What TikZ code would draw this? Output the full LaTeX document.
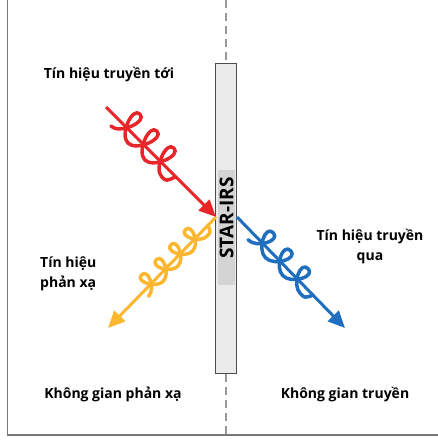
\documentclass[tikz,border=0pt]{standalone}
\usepackage{fontspec}
\setmainfont{Open Sans}
\usetikzlibrary{arrows.meta}

\definecolor{sigred}{RGB}{232,38,42}
\definecolor{sigyellow}{RGB}{251,183,48}
\definecolor{sigblue}{RGB}{31,111,190}
\definecolor{framegray}{RGB}{120,120,120}

% looped wave along the local x axis:
% #1 start, #2 period, #3 loops, #4 height, #5 depth
\newcommand{\loopwave}[5]{%
  (#1,-#5) \foreach \k in {1,...,#3} {
    .. controls ({#1+(\k-1)*#2+0.5*#2},-#5) and ({#1+(\k-1)*#2+0.95*#2},#4) .. ({#1+(\k-1)*#2+0.5*#2},#4)
    .. controls ({#1+(\k-1)*#2+0.05*#2},#4) and ({#1+(\k-1)*#2+0.5*#2},-#5) .. ({#1+\k*#2},-#5)
  }
  .. controls ({#1+#3*#2+0.25*#2},-#5) .. ({#1+#3*#2+0.4*#2},0)}

\tikzset{
  labeltext/.style={font=\bfseries\fontsize{14}{20}\selectfont, align=center, inner sep=0pt},
  ray/.style={line width=3pt, -{Triangle[length=17pt,width=15pt]}},
  wavy/.style={line width=3.5pt, line join=round, line cap=round},
  irsbox/.style={draw=black!70, line width=1pt, fill=black!8, minimum width=21pt, minimum height=310pt, inner sep=0pt},
}

\begin{document}
\begin{tikzpicture}[x=1pt,y=1pt]
\useasboundingbox (0,0) rectangle (438,-441);
% frame
\draw[framegray, line width=1.5pt] (7.5,0) -- (7.5,-435) -- (438,-435);
% dividing line
\draw[black!40, line width=2.2pt, dash pattern=on 8pt off 5pt] (226,0) -- (226,-63);
\draw[black!40, line width=2.2pt, dash pattern=on 8pt off 5pt] (226,-374) -- (226,-435);
% STAR-IRS
\node[irsbox] (irs) at (226,-218.75) {};
\node[fill=black!17, minimum width=17pt, minimum height=115pt, inner sep=0pt] (patch) at (226.5,-227.5) {};
\node[rotate=90, font=\bfseries\fontsize{19}{20}\selectfont, inner sep=0pt] (irstext) at (226.5,-218) {STAR-IRS};
% ray end points
\coordinate (src) at (106,-107);
\coordinate (hit) at (216,-217);
\coordinate (refl) at (108,-328);
\coordinate (out) at (237,-217);
\coordinate (trans) at (345,-328);
% rays
\draw[ray, sigred] (src) -- (hit);
\draw[ray, sigyellow] (hit) -- (refl);
\draw[ray, sigblue] (out) -- (trans);
% waves
\begin{scope}[shift={(src)}, rotate=-45]
  \draw[wavy, sigred] \loopwave{17}{24}{3}{19}{10};
\end{scope}
\begin{scope}[shift={(refl)}, rotate=45.8]
  \draw[wavy, sigyellow] \loopwave{51}{21}{4}{13}{7};
\end{scope}
\begin{scope}[shift={(out)}, rotate=-45.8]
  \draw[wavy, sigblue] \loopwave{24}{25}{3}{15}{8};
\end{scope}
% labels
\node[labeltext] (incident) at (109,-74) {Tín hiệu truyền tới};
\node[labeltext, anchor=west, align=left] (reflected) at (40,-274) {Tín hiệu\\phản xạ};
\node[labeltext] (transmitted) at (370,-246) {Tín hiệu truyền\\qua};
\node[labeltext] (rspace) at (113,-394) {Không gian phản xạ};
\node[labeltext] (tspace) at (345,-394) {Không gian truyền};
\end{tikzpicture}
\end{document}
